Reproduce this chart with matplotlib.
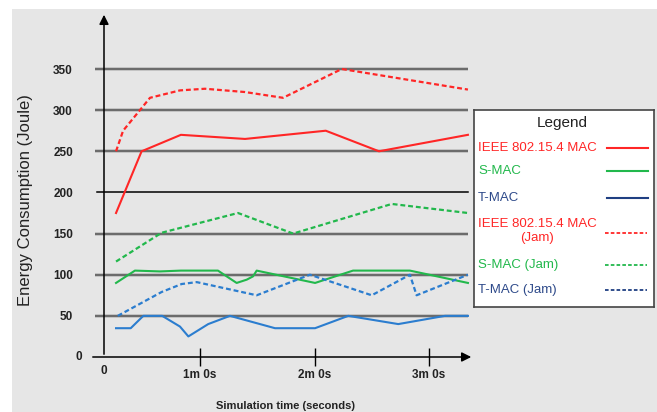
import matplotlib
matplotlib.use("Agg")
import matplotlib.pyplot as plt
from matplotlib.patches import Rectangle

plt.rcParams['font.family'] = ['Liberation Sans', 'DejaVu Sans']

W, H = 657, 412

# data (time in seconds, energy in Joule)
ieee_t = [16, 29.4, 50, 83.6, 125.9, 153.8, 200.4]
ieee = [175, 250, 270, 265, 275, 250, 270]
ieee_jam_t = [16, 19.7, 33.8, 49.5, 62.6, 83.6, 103.5, 134.3, 200.4]
ieee_jam = [250, 275, 315, 324, 326, 322, 315, 350, 325]
smac_t = [16, 25.9, 39, 50, 69.4, 79.2, 84.5, 87.8, 89.7, 120.3, 140.2, 170, 200.4]
smac = [90, 105, 104, 105, 105, 90, 94, 98, 105, 90, 105, 105, 90]
smac_jam_t = [16, 39.9, 79.9, 108.8, 160.5, 200.4]
smac_jam = [116, 151, 175, 150, 186, 175]
tmac_t = [16, 23.7, 30.3, 40.2, 45.2, 49.5, 53.9, 64.3, 75.7, 99.3, 120.3, 137.7, 163.9, 188.4, 200.4]
tmac = [35, 35, 50, 50, 43, 37, 25, 40, 50, 35, 35, 50, 40, 50, 50]
tmac_jam_t = [16.9, 39.9, 50.4, 58.3, 89.7, 117.6, 150, 170, 173.5, 200.4]
tmac_jam = [50, 79, 88.7, 91, 75, 100, 75, 100, 75, 100]

yticks = [50, 100, 150, 200, 250, 300, 350]
xticks = [60, 120, 180]
xticklabels = ["1m 0s", "2m 0s", "3m 0s"]

RED = '#ff2626'
GREEN = '#22b84c'
BLUE = '#2b7dcf'
NAVY = '#1f3f82'

legend_labels = ["IEEE 802.15.4 MAC", "S-MAC", "T-MAC",
                 "IEEE 802.15.4 MAC\n(Jam)", "S-MAC (Jam)", "T-MAC (Jam)"]
legend_text_colors = [RED, GREEN, '#2e4a8a', RED, GREEN, '#2e4a8a']
legend_line_colors = [RED, GREEN, NAVY, RED, GREEN, NAVY]
legend_dashed = [False, False, False, True, True, True]

fig = plt.figure(figsize=(W / 100, H / 100), dpi=100)
fig.patches.append(Rectangle((12 / W, 0), 1, (H - 9) / H, transform=fig.transFigure,
                             facecolor='#e6e6e6', edgecolor='none', zorder=-5))

# axes: t=0 at px 85.5, 60 s per 114.5 px; value 0 at py 357, 350 at py 69
px0, px1 = 85.5, 480
py0, py1 = 357, 12
sec_per_px = 60 / 114.5
val_per_px = 350 / 288
ax = fig.add_axes([px0 / W, (H - py0) / H, (px1 - px0) / W, (py0 - py1) / H])
ax.set_xlim(0, (px1 - px0) * sec_per_px)
ax.set_ylim(0, (py0 - py1) * val_per_px)
ax.patch.set_alpha(0)
for s in ax.spines.values():
    s.set_visible(False)

def tx(px):
    return (px - px0) * sec_per_px

# grid lines
for v in yticks:
    if v == 200:
        ax.plot([tx(97), tx(468)], [v, v], color='black', lw=1.1, zorder=1)
    else:
        ax.plot([tx(95), tx(468)], [v, v], color='#bdbdbd', lw=2.6, zorder=1, solid_capstyle='butt')
        ax.plot([tx(95), tx(468)], [v, v], color='#646464', lw=1.3, zorder=1, solid_capstyle='butt')

# axis arrows
ax.annotate('', xy=(tx(104), (py0 - 12) * val_per_px), xytext=(tx(104), 0),
            arrowprops=dict(arrowstyle='-|>', color='black', lw=1.1, mutation_scale=14),
            annotation_clip=False)
ax.annotate('', xy=(tx(474), 0), xytext=(tx(90), 0),
            arrowprops=dict(arrowstyle='-|>', color='black', lw=1.1, mutation_scale=14),
            annotation_clip=False)

dash = (2.2, 1.3)
ax.plot(ieee_t, ieee, color=RED, lw=1.5, zorder=3)
ax.plot(ieee_jam_t, ieee_jam, color=RED, lw=1.6, dashes=dash, zorder=3)
ax.plot(smac_t, smac, color=GREEN, lw=1.5, zorder=3)
ax.plot(smac_jam_t, smac_jam, color=GREEN, lw=1.6, dashes=dash, zorder=3)
ax.plot(tmac_t, tmac, color=BLUE, lw=1.5, zorder=3)
ax.plot(tmac_jam_t, tmac_jam, color=BLUE, lw=1.6, dashes=dash, zorder=3)

ax.set_yticks(yticks)
ax.set_yticklabels([str(v) for v in yticks], fontsize=8.5, fontweight='bold', color='#222222')
ax.tick_params(axis='y', length=0, pad=9)
ax.set_xticks(xticks)
ax.set_xticklabels(xticklabels, fontsize=8.5, fontweight='bold', color='#222222')
ax.tick_params(axis='x', direction='inout', length=13, width=1, pad=2)
ax.text(tx(82), 0, "0", ha='right', va='center', fontsize=8.5, fontweight='bold', color='#222222')
ax.text(tx(104), -17, "0", ha='center', va='center', fontsize=8.5, fontweight='bold', color='#222222')

fig.text(285 / W, 1 - 406 / H, "Simulation time (seconds)", ha='center', va='center',
         fontsize=8, fontweight='bold', color='#222222')
fig.text(26 / W, 1 - 200 / H, "Energy Consumption (Joule)", ha='center', va='center',
         rotation=90, fontsize=12, color='#222222')

# legend box
lx0, lx1, ly0, ly1 = 474, 654, 110, 307
lax = fig.add_axes([lx0 / W, (H - ly1) / H, (lx1 - lx0) / W, (ly1 - ly0) / H])
lax.set_xlim(lx0, lx1)
lax.set_ylim(ly1, ly0)
lax.set_xticks([])
lax.set_yticks([])
lax.set_facecolor('white')
for s in lax.spines.values():
    s.set_color('#444444')
    s.set_linewidth(1.2)
lax.text(562, 123, "Legend", ha='center', va='center', fontsize=11, color='#222222')
entry_y = [148, 171, 198, 231, 265, 290]
for lab, tc, lc, dsh, y in zip(legend_labels, legend_text_colors, legend_line_colors,
                               legend_dashed, entry_y):
    if "\n" in lab:
        lax.text(537, y, lab, ha='center', va='center', fontsize=9.5, color=tc,
                 multialignment='center', linespacing=1.3)
        ly = y + 2
    else:
        lax.text(478, y, lab, ha='left', va='center', fontsize=9.5, color=tc)
        ly = y
    if dsh:
        lax.plot([605, 647], [ly, ly], color=lc, lw=1.3, dashes=(2, 1.2))
    else:
        lax.plot([607, 648], [ly, ly], color=lc, lw=1.5)

fig.savefig("out.png", dpi=100)
